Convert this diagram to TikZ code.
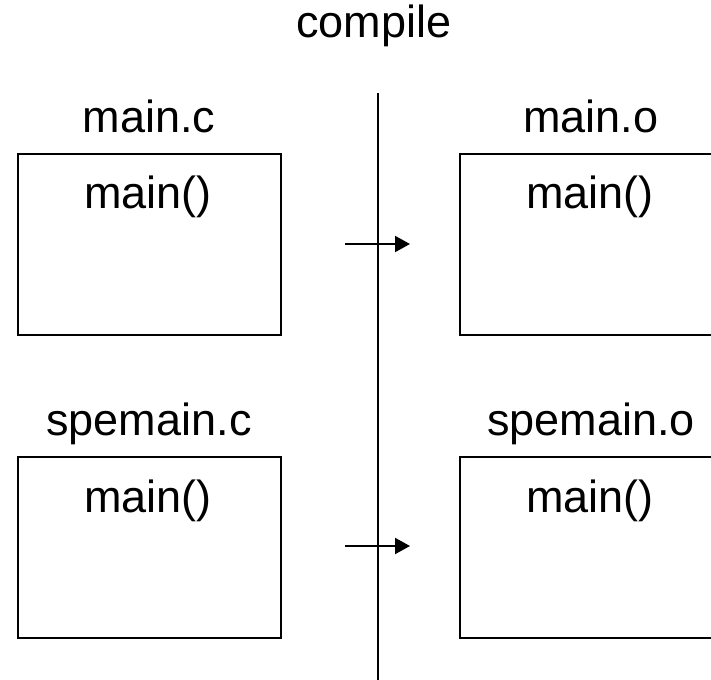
\documentclass[tikz,border=0pt]{standalone}
\usepackage{fontspec}
\setmainfont{Liberation Sans}
\usetikzlibrary{arrows.meta}
\begin{document}
\begin{tikzpicture}[x=1pt,y=-1pt,
  lbl/.style={font=\fontsize{45}{54}\selectfont, anchor=base, inner sep=0pt},
  filebox/.style={draw, line width=2pt, rectangle, inner sep=0pt,
    minimum width=263pt, minimum height=181pt, anchor=north west},
  objbox/.style={filebox, minimum width=280pt},
  divider/.style={line width=2pt},
  flow/.style={line width=2pt, -{Triangle[length=15pt,width=16pt]}}
]
\clip (0,0) rectangle (711,679);
\fill[white] (0,0) rectangle (711,679);

% heading
\node[lbl] (title) at (374,38) {compile};

% separator between sources and objects
\coordinate (divtop) at (378,93);
\coordinate (divbot) at (378,690);
\draw[divider] (divtop) -- (divbot);

% source files
\node[lbl] (mainc-name) at (149,133) {main.c};
\node[filebox] (mainc) at (17,153) {};
\node[lbl] (mainc-fn) at (148,208) {main()};

\node[lbl] (spec-name) at (149,435) {spemain.c};
\node[filebox] (spec) at (17,456) {};
\node[lbl] (spec-fn) at (148,512) {main()};

% object files
\node[lbl] (maino-name) at (591,133) {main.o};
\node[objbox] (maino) at (459,153) {};
\node[lbl] (maino-fn) at (590,208) {main()};

\node[lbl] (speo-name) at (591,435) {spemain.o};
\node[objbox] (speo) at (459,456) {};
\node[lbl] (speo-fn) at (590,512) {main()};

% compile arrows
\coordinate (a1s) at (345,244);
\coordinate (a1e) at (410,244);
\draw[flow] (a1s) -- (a1e);
\coordinate (a2s) at (345,546);
\coordinate (a2e) at (410,546);
\draw[flow] (a2s) -- (a2e);
\end{tikzpicture}
\end{document}
